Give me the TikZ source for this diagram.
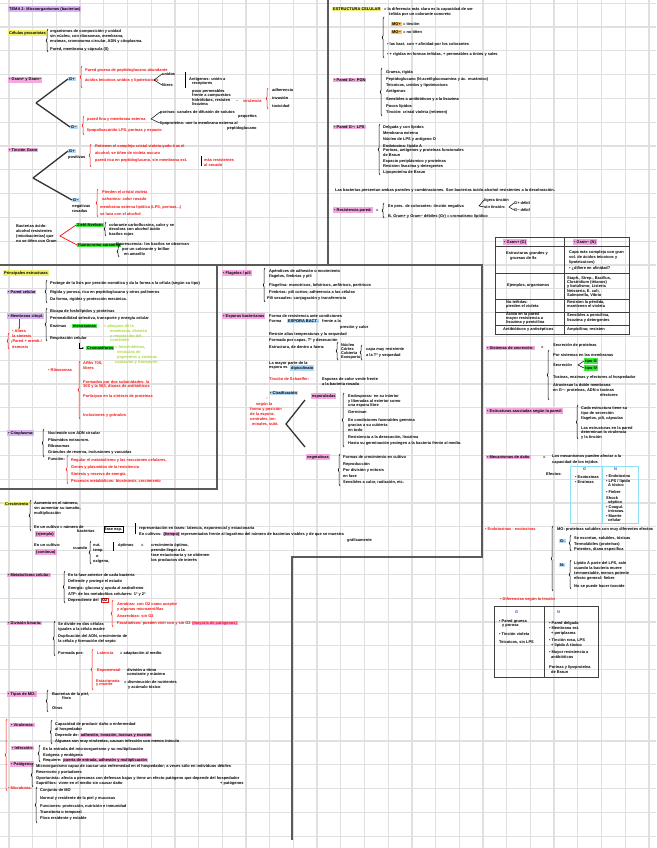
\documentclass[tikz,border=0pt]{standalone}
\usepackage{fontspec}
\setmainfont{Liberation Sans}
\usetikzlibrary{decorations.pathreplacing,arrows.meta}
\definecolor{gridc}{HTML}{E0E0E0}
\definecolor{framec}{HTML}{5A5A5A}
\definecolor{pinkhl}{HTML}{F5A8E0}
\definecolor{yelhl}{HTML}{F0F06A}
\definecolor{viohl}{HTML}{D9B6F2}
\definecolor{bluhl}{HTML}{B2D9F7}
\definecolor{grnhl}{HTML}{3DEB3D}
\definecolor{orahl}{HTML}{F7C25E}
\definecolor{redt}{HTML}{F51010}
\definecolor{grnt}{HTML}{A8D838}
\definecolor{cyanb}{HTML}{8FE0F2}
\definecolor{bluet}{HTML}{3050D0}
\newcounter{nn}
\newcommand\T[4][txt]{\stepcounter{nn}\node[#1] (n\arabic{nn}) at (#2,#3) {#4};}
\newcommand\Br[4][black]{\draw[br,draw=#1] (#2,#4) -- (#2,#3);}
\newcommand\hlt[2]{\begingroup\setlength{\fboxsep}{0.6pt}\colorbox{#1}{#2}\endgroup}
\tikzset{
  txt/.style={font=\fontsize{3.95}{5}\selectfont\bfseries, inner sep=0pt, anchor=west, text=black},
  rt/.style={txt, text=redt},
  gt/.style={txt, text=grnt},
  bt/.style={txt, text=bluet},
  hl/.style={txt, fill=#1, inner xsep=1pt, inner ysep=0.8pt},
  gridline/.style={draw=gridc, line width=1.3pt},
  frame/.style={draw=framec, line width=1.6pt},
  tbl/.style={draw=black!75, line width=1pt},
  br/.style={decorate, decoration={brace, amplitude=1.8pt}, line width=0.6pt},
  tree/.style={draw=black!80, line width=1.3pt},
  thinl/.style={draw=black, line width=0.5pt},
  redl/.style={draw=redt, line width=0.7pt},
}
\begin{document}
\begin{tikzpicture}[x=1pt,y=-1pt]
\useasboundingbox (0,0) rectangle (656,848);
\fill[white] (0,0) rectangle (656,848);
% grid
\foreach \i in {0,...,27} \draw[gridline] ({9+23.7*\i},0) -- ({9+23.7*\i},848);
\foreach \j in {0,...,35} \draw[gridline] (0,{3.2+23.8*\j}) -- (656,{3.2+23.8*\j});
% frames
\draw[frame] (328,0) -- (328,265);
\draw[frame] (0,265) -- (482,265) -- (482,557) -- (292,557) -- (292,840);
\draw[frame] (217,265) -- (217,489) -- (0,489);

% ===== Block A =====
\node[hl=viohl] (title) at (8,9) {TEMA 2: Microorganismos (bacterias)};
\node[hl=yelhl] (cel) at (8,33) {Células procariotas};
\Br{48}{29}{52}
\T{50}{31}{organismos de composición y unidad}
\T{50}{36}{sin núcleo, con ribosomas, membrana,}
\T{50}{41}{enzimas, cromosoma circular, ADN y citoplasma.}
\T{50}{49}{Pared, membrana y cápsula (S)}

% ===== Block B =====
\node[hl=pinkhl] (gram) at (8,80) {• Gram+ y Gram−};
\coordinate (vB) at (36,103);
\node[hl=bluhl] (bGp) at (68,79) {G+};
\node[hl=bluhl] (bGn) at (70,127) {G−};
\draw[tree] (vB) -- (bGp.west);
\draw[tree] (vB) -- (bGn.west);
\Br[redt]{82}{66}{88}
\T[rt]{85}{70}{Pared gruesa de peptidoglucano abundante}
\T[rt]{85}{80}{ácidos teicoicos unidos y lipoteicoicos}
\coordinate (lB1) at (154,80);
\node[txt] (uni) at (162,74) {unidos};
\node[txt] (lib) at (162,85) {libres};
\draw[thinl] (uni.west) -- (lB1) -- (lib.west);
\draw[thinl] (185,72) -- (185,88);
\T{189}{79}{Antígenos: unión a}
\T{192}{84}{receptores}
\T{192}{91}{poco permeables}
\T{192}{95}{frente a compuestos}
\T{192}{100}{hidrófobos, resisten}
\T{192}{104}{lisozima}
\T{235}{101}{→}
\T[rt]{243}{101}{virulencia}
\Br[redt]{268}{88}{109}
\T{272}{90}{adherencia}
\T{272}{98}{invasión}
\T{272}{106}{toxicidad}
\Br[redt]{84}{116}{135}
\T[rt]{87}{119}{pared fina y membrana externa}
\T[rt]{87}{130}{lipopolisacárido LPS, porinas y espacio}
\coordinate (lB2) at (151,119);
\node[txt] (por) at (160,112) {porinas: canales de difusión de solutos};
\node[txt] (lip) at (160,123) {lipoproteína: une la membrana externa al};
\draw[thinl] (por.west) -- (lB2) -- (lip.west);
\T{238}{116}{pequeños}
\T{227}{128}{peptidoglucano}

% ===== Block C =====
\node[hl=pinkhl] (tin) at (8,150) {• Tinción Gram};
\coordinate (vC) at (33,178);
\node[hl=bluhl] (cGp) at (68,151) {G+};
\T{68}{157}{positivas}
\node[hl=bluhl] (cGn) at (72,200) {G−};
\T{72}{206}{negativas}
\T{72}{211}{rosadas}
\draw[tree] (vC) -- (cGp.west);
\draw[tree] (vC) -- (cGn.west);
\Br[redt]{91}{144}{167}
\T[rt]{95}{146}{Retienen el complejo cristal violeta-yodo tras el}
\T[rt]{95}{153}{alcohol; se tiñen de violeta oscuro}
\T[rt]{95}{160}{pared rica en peptidoglucano, sin membrana ext.}
\draw[thinl] (201,156) -- (201,166);
\T[rt]{204}{160}{más resistentes}
\T[rt]{204}{165}{al secado}
\Br[redt]{98}{189}{217}
\T[rt]{102}{192}{Pierden el cristal violeta}
\T[rt]{102}{199}{safranina: color rosado}
\T[rt]{100}{207}{membrana externa lipídica (LPS, porinas...)}
\T[rt]{100}{214}{se lava con el alcohol}

% ===== Block D =====
\T{16}{226}{Bacterias ácido-}
\T{16}{231}{alcohol resistentes}
\T{16}{236}{(micobacterias) que}
\T{16}{241}{no se tiñen con Gram}
\coordinate (vD) at (60,236);
\node[hl=grnhl] (zn) at (76,225) {Ziehl-Neelsen};
\node[hl=grnhl] (au) at (77,245) {fluorocromo auramina};
\draw[redl] (zn.west) -- (vD) -- (au.west);
\Br{106}{222}{236}
\T{109}{225}{colorante carbolfucsina, calor y se}
\T{109}{229}{decolora con alcohol ácido}
\T{109}{234}{bacilos rojos}
\T{116}{244}{fluorescencia: los bacilos se observan}
\Br{119}{246}{257}
\T{122}{249}{por un colorante y brillan}
\T{124}{254}{en amarillo}

% ===== Block E =====
\node[hl=yelhl] (estr) at (332,9) {ESTRUCTURA CELULAR};
\T{384}{9}{= la diferencia más clara es la capacidad de ser}
\T{389}{14}{teñida por un colorante concreto}
\Br{384}{17}{58}
\node[hl=orahl] (mop) at (391,24) {MO+};
\T{403}{24}{= tinción}
\node[hl=orahl] (mon) at (391,32) {MO−};
\T{403}{32}{= no tiñen}
\T{387}{44}{• las bact. con + afinidad por los colorantes}
\T{387}{54}{• + rígidas en formas teñidas, + permeables a tintes y sales}
\node[hl=pinkhl] (pgp) at (333,80) {• Pared G+: PGN};
\Br{382}{68}{116}
\T{386}{72}{Gruesa, rígida}
\T{386}{79}{Peptidoglucano (N-acetilglucosamina y ác. murámico)}
\T{386}{85}{Teicoicos, unidos y lipoteicoicos}
\T{386}{91}{Antígenos}
\T{386}{99}{Sensibles a antibióticos y a la lisozima}
\T{386}{106}{Pocos lípidos}
\T{386}{112}{Tinción: cristal violeta (retienen)}
\node[hl=pinkhl] (pgn) at (333,127) {• Pared G−: LPS};
\Br{380}{124}{175}
\T{383}{127}{Delgada y con lípidos}
\T{383}{133}{Membrana externa}
\T{383}{139}{Núcleo de LPS y antígeno O}
\T{383}{146}{Endotoxina: lípido A}
\T{383}{150}{Porinas, antígenos y proteínas funcionales}
\T{383}{155}{de Braun}
\T{383}{161}{Espacio periplásmico y proteínas}
\T{383}{166}{Resisten lisozima y detergentes}
\T{383}{172}{Lipoproteína de Braun}
\T{335}{190}{Las bacterias presentan ambas paredes y combinaciones. Son bacterias ácido-alcohol resistentes a la decoloración.}
\node[hl=pinkhl] (resp) at (333,210) {• Resistencia pared:};
\T{376}{210}{=}
\Br{384}{203}{218}
\node[txt] (rp1) at (388,206) {En pres. de colorantes: tinción negativa};
\coordinate (vE1) at (479,206);
\node[txt] (rp2) at (484,200) {ligera tinción};
\node[txt] (rp3) at (484,207) {sin tinción:};
\draw[thinl] (rp2.west) -- (vE1) -- (rp3.west);
\coordinate (vE2) at (509,207);
\node[txt] (rp4) at (514,203) {G+ débil};
\node[txt] (rp5) at (514,210) {G− débil};
\draw[thinl] (rp4.west) -- (vE2) -- (rp5.west);
\T{388}{216}{B. Gram+ y Gram− débiles (Gr) = cromatismo lipídico}

% ===== Table Gram =====
\draw[tbl] (495,237) rectangle (629,334);
\draw[tbl] (564,237) -- (564,334);
\foreach \yy in {246,273,299,312,325} \draw[tbl] (495,\yy) -- (629,\yy);
\node[hl=pinkhl] (th1) at (503,242) {• Gram+ (G)};
\node[hl=pinkhl] (th2) at (573,242) {• Gram− (N)};
\T{506}{253}{Estructuras grandes y}
\T{510}{258}{gruesas de 9x}
\T{569}{252}{Capa más compleja con gran}
\T{569}{257}{vol. de ácidos teicoicos y}
\T{569}{262}{lipoteicoicos)}
\T{569}{268}{• ¿difiere en afinidad?}
\T{507}{285}{Ejemplos, organismos}
\T{567}{278}{Staph., Strep., Bacillus,}
\T{567}{282}{Clostridium (tétanos)}
\T{567}{286}{y botulismo; Listeria}
\T{567}{291}{Neisseria, E. coli,}
\T{567}{295}{Salmonella, Vibrio}
\T{506}{302}{No teñidas:}
\T{506}{306}{pierden el violeta}
\T{567}{302}{Resisten la pérdida,}
\T{567}{306}{mantienen el violeta}
\T{506}{314}{Ácido en la pared}
\T{506}{318}{mayor resistencia a}
\T{506}{322}{lisozima y penicilina}
\T{567}{315}{Sensibles a penicilina,}
\T{567}{320}{lisozima y detergentes}
\T{503}{329}{Antibióticos y antisépticos}
\T{567}{329}{Ampicilina; resisten}

% ===== Block F =====
\node[hl=pinkhl] (sec) at (486,348) {• Sistemas de secreción:};
\T{541}{347}{=}
\T{553}{345}{Secreción de proteínas}
\Br{549}{350}{400}
\T{553}{355}{Por sistemas en las membranas}
\node[txt] (sc1) at (553,365) {Secreción};
\coordinate (vF) at (578,365);
\node[hl=grnhl] (t3) at (584,361) {tipo III};
\node[hl=grnhl] (t4) at (584,368) {tipo IV};
\draw[thinl] (t3.west) -- (vF) -- (t4.west);
\T{553}{377}{Toxinas, enzimas y efectores al hospedador}
\T{553}{385}{Atraviesan la doble membrana}
\T{553}{390}{en G−: proteínas, ADN o toxinas}
\T{600}{395}{efectores}
\node[hl=pinkhl] (est) at (486,411) {• Estructuras asociadas según la pared:};
\Br{578}{405}{439}
\T{581}{408}{Cada estructura tiene su}
\T{581}{413}{tipo de secreción}
\T{581}{418}{flagelos, pili, cápsulas}
\T{581}{428}{Las estructuras en la pared}
\T{581}{432}{determinan la virulencia}
\T{581}{437}{y la tinción}
\node[hl=pinkhl] (mec) at (486,457) {• Mecanismos de daño};
\T{543}{457}{=}
\T{552}{456}{Los mecanismos pueden afectar a la}
\T{552}{462}{capacidad de los tejidos}
\node[txt] (efe) at (546,474) {Efectos:};
\draw[draw=cyanb, line width=1pt] (570,466) rectangle (638,523);
\draw[draw=cyanb, line width=1pt] (602,466) -- (602,523);
\T[bt]{583}{469}{G}
\T[bt]{614}{469}{N}
\T{575}{477}{• Exotoxinas}
\T{575}{482}{• Enzimas}
\T{606}{476}{• Endotoxina}
\T{606}{481}{• LPS / lípido}
\T{608}{485}{A tóxico}
\T{606}{492}{• Fiebre}
\T{606}{498}{Shock}
\T{608}{502}{séptico}
\T{606}{507}{• Coagul.}
\T{608}{511}{intravas.}
\T{606}{516}{• Muerte}
\T{608}{520}{celular}
\T[rt]{485}{529}{• Endotoxinas - exotoxinas}
\Br{553}{526}{591}
\T{557}{529}{MO: proteínas solubles con muy diferentes efectos}
\node[hl=bluhl] (eG) at (559,541) {G:};
\Br{571}{535}{551}
\T{574}{538}{Se excretan, solubles, tóxicas}
\T{574}{544}{Termolábiles (proteínas)}
\T{574}{549}{Potentes, diana específica}
\node[hl=bluhl] (eN) at (559,565) {N:};
\Br{571}{560}{589}
\T{574}{563}{Lípido A parte del LPS, sale}
\T{574}{568}{cuando la bacteria muere}
\T{574}{573}{termoestable, menos potente}
\T{574}{578}{efecto general: fiebre}
\T{574}{586}{No se puede hacer toxoide}
\T[rt]{500}{599}{• Diferencias según la tinción}
\draw[tbl] (494,606) rectangle (598,677);
\draw[tbl] (544,606) -- (544,677);
\T[bt]{515}{612}{G}
\T[bt]{557}{612}{N}
\T{499}{621}{• Pared gruesa}
\T{502}{626}{y porosa}
\T{499}{634}{• Tinción violeta}
\T{499}{642}{Teicoicos, sin LPS}
\T{549}{623}{• Pared delgada}
\T{549}{628}{• Membrana ext.}
\T{551}{633}{+ periplasma}
\T{549}{640}{• Tinción rosa, LPS}
\T{551}{645}{+ lípido A tóxico}
\T{549}{652}{• Mayor resistencia a}
\T{551}{657}{antibióticos}
\T{549}{667}{Porinas y lipoproteína}
\T{551}{672}{de Braun}

% ===== Block G =====
\node[hl=yelhl] (pri) at (3,273) {Principales estructuras};
\node[hl=viohl] (par) at (7,292) {• Pared celular};
\Br{47}{280}{303}
\T{50}{283}{Protege de la lisis por presión osmótica y da la forma a la célula (según su tipo)}
\T{50}{292}{Rígida y porosa, rica en peptidoglucano y otros polímeros}
\T{50}{299}{Da forma, rigidez y protección mecánica.}
\node[hl=viohl] (memb) at (7,316) {• Membrana citopl.};
\Br{47}{308}{341}
\T{50}{311}{Bicapa de fosfolípidos y proteínas}
\T{50}{318}{Permeabilidad selectiva, transporte y energía celular}
\T{50}{326}{Enzimas}
\node[hl=grnhl] (meso) at (72,326) {mesosomas};
\T[gt]{104}{326}{= pliegues de la}
\T[gt]{110}{331}{membrana, división}
\T[gt]{110}{336}{y respiración del}
\T[gt]{110}{340}{contenido}
\T{50}{338}{Respiración celular}
\draw[thinl,-{Stealth[length=2pt]}] (79,343) |- (84,348);
\node[hl=grnhl] (crom) at (86,348) {Cromatóforos};
\T[gt]{115}{347}{= fotosintéticos,}
\T[gt]{117}{352}{vesículas de}
\T[gt]{117}{357}{pigmentos y enzimas}
\T[gt]{115}{362}{captación y transporte}
\node[rt] (rmem) at (12,331) {• Altera};
\T[rt]{12}{336}{la síntesis}
\T[rt]{11}{341}{¡Pared + memb.!}
\T[rt]{12}{347}{ósmosis}
\draw[redl,-{Stealth[length=2pt]}] (memb.south -| rmem.north) -- (rmem.north);
\Br[redt]{9}{333}{349}
\T[rt]{48}{370}{• Ribosomas}
\Br[redt]{80}{361}{419}
\T[rt]{83}{363}{ARNr 70S,}
\T[rt]{83}{368}{libres}
\T[rt]{83}{382}{Formados por dos subunidades: la}
\T[rt]{83}{386}{30S y la 50S, dianas de antibióticos}
\T[rt]{83}{396}{Participan en la síntesis de proteínas}
\T[rt]{83}{415}{Inclusiones y gránulos}
\node[hl=viohl] (cit) at (7,433) {• Citoplasma:};
\Br{44}{429}{457}
\T{48}{433}{Nucleoide con ADN circular}
\T{48}{440}{Plásmidos extracrom.}
\T{48}{446}{Ribosomas}
\T{48}{452}{Gránulos de reserva, inclusiones y vacuolas}
\T{48}{459}{Función:}
\Br[redt]{68}{455}{484}
\T[rt]{71}{460}{Regular el metabolismo y las reacciones celulares,}
\T[rt]{71}{467}{Genes y plásmidos de la resistencia}
\T[rt]{71}{474}{Síntesis y reserva de energía}
\T[rt]{71}{481}{Procesos metabólicos: biosíntesis, crecimiento}

% ===== Block H =====
\node[hl=pinkhl] (fla) at (222,273) {• Flagelos / pili};
\Br{265}{268}{302}
\T{269}{271}{Apéndices de adhesión o movimiento}
\T{269}{276}{flagelos, fimbrias y pili}
\T{269}{285}{Flagelina: monotricos, lofotricos, anfitricos, peritricos}
\T{269}{292}{Fimbrias: pili cortos; adherencia a las células}
\T{267}{298}{Pili sexuales: conjugación y transferencia}
\node[hl=pinkhl] (esp) at (222,316) {• Esporas bacterianas};
\T{269}{316}{Forma de resistencia ante condiciones}
\T{269}{321}{Forma}
\node[hl=bluhl] (espb) at (287,321) {ESPORA BACT.};
\T{322}{321}{frente a la}
\T{340}{327}{presión y calor}
\T{269}{334}{Resiste altas temperaturas y la sequedad}
\T{269}{340}{Formada por capas, Tª y desecación}
\T{269}{347}{Estructura, de dentro a fuera:}
\Br{338}{342}{360}
\T{341}{345}{Núcleo}
\T{341}{349}{Córtex}
\T{341}{353}{Cubierta}
\T{341}{357}{Exosporio}
\Br{362}{345}{360}
\T{366}{349}{capa muy resistente}
\T{366}{355}{a la Tª y sequedad}
\T{269}{363}{La mayor parte de la}
\T{269}{368}{espora es}
\node[hl=bluhl] (dip) at (290,368) {dipicolinato};
\T[rt]{269}{379}{Tinción de Schaeffer:}
\T{322}{379}{Esporas de color verde frente}
\T{322}{384}{a la bacteria rosada}
\node[hl=bluhl] (cla) at (269,393) {• Clasificación};
\T[rt]{266}{398}{↓}
\T[rt]{256}{404}{según la}
\T[rt]{250}{409}{forma y posición}
\T[rt]{250}{414}{de la espora:}
\T[rt]{250}{419}{centrales, ter-}
\T[rt]{252}{424}{minales, subt.}
\coordinate (vH) at (286,424);
\coordinate (hU) at (305,400);
\coordinate (hL) at (305,447);
\draw[tree] (hU) -- (vH) -- (hL);
\node[hl=pinkhl] (espo) at (311,396) {esporuladas};
\node[hl=pinkhl] (vege) at (306,457) {vegetativas};
\Br{344}{393}{447}
\T{348}{396}{Endosporas: en su interior}
\T{348}{401}{y liberadas al exterior como}
\T{348}{405}{una espora libre}
\T{348}{412}{Germinan}
\T{348}{420}{En condiciones favorables germina}
\T{348}{425}{gracias a su cubierta}
\T{348}{430}{en todo}
\T{348}{437}{Resistencia a la desecación, lisozima}
\T{348}{443}{Hasta su germinación protegen a la bacteria frente al medio.}
\Br{340}{454}{486}
\T{343}{457}{Formas de crecimiento en cultivo}
\T{343}{464}{Reproducción}
\T{343}{470}{Por división y mitosis}
\T{343}{476}{en fase}
\T{343}{482}{Sensibles a calor, radiación, etc.}

% ===== Block I =====
\node[hl=yelhl] (cre) at (4,504) {Crecimiento};
\T{27}{504}{:}
\Br{31}{500}{531}
\T{34}{503}{Aumento en el número,}
\T{34}{508}{sin aumentar su tamaño,}
\T{34}{513}{multiplicación}
\T{34}{527}{En un cultivo = número de}
\T{77}{531}{bacterias}
\node[hl=pinkhl] (cul1) at (35,534) {(ejemplo)};
\node[txt, draw=black, line width=0.4pt, inner sep=1pt] (fase) at (104,529) {fase exp.};
\draw[thinl] (135,523) -- (135,534);
\T{139}{528}{representación en fases: latencia, exponencial y estacionaria}
\T{139}{534}{En cultivos: \hlt{pinkhl}{(tiempo)} representados frente al logaritmo del número de bacterias viables y de que se muestra}
\T{347}{540}{gráficamente}
\T{34}{545}{En un cultivo:}
\node[hl=pinkhl] (cul2) at (35,552) {(continuo)};
\T{73}{548}{cuando}
\Br{91}{541}{564}
\T{93}{545}{nut.}
\T{93}{551}{temp.}
\T{96}{556}{o}
\T{93}{561}{oxígeno,}
\draw[thinl] (113,542) -- (113,551);
\T{118}{545}{óptimos}
\T{141}{545}{=}
\T{151}{545}{crecimiento óptimo,}
\T{151}{550}{permite llegar a la}
\T{151}{555}{fase estacionaria y se obtienen}
\T{151}{560}{los productos de interés}
\node[hl=pinkhl] (met) at (7,575) {• Metabolismo celular:};
\Br{65}{571}{603}
\T{68}{575}{En la fase anterior de cada bacteria}
\T{68}{581}{Defiende y protege el estado}
\T{68}{588}{Energía: glucosa y ayuda al anabolismo}
\T{68}{594}{ATP: de los metabolitos celulares: 1º y 2º}
\T{68}{600}{Dependiente del}
\node[txt, draw=redt, line width=0.5pt, inner sep=0.8pt] (oxi) at (101,600) {O2};
\Br[redt]{113}{600}{627}
\T[rt]{117}{604}{Aerobias: con O2 como aceptor}
\T[rt]{117}{609}{y algunas microaerófilas}
\T[rt]{117}{616}{Anaerobias: sin O2}
\T[rt]{117}{623}{Facultativas: pueden vivir con y sin O2 \hlt{pinkhl}{(mayoría de patógenos)}}
\node[hl=pinkhl] (div) at (7,623) {• División binaria:};
\Br{55}{621}{656}
\T{58}{624}{Se divide en dos células}
\T{58}{629}{iguales a la célula madre}
\T{58}{636}{Duplicación del ADN, crecimiento de}
\T{58}{641}{la célula y formación del septo}
\T{58}{653}{Formada por:}
\Br[redt]{93}{649}{690}
\T[rt]{97}{653}{Latencia}
\T{120}{653}{= adaptación al medio}
\T[rt]{97}{670}{Exponencial}
\T{127}{670}{división a ritmo}
\T{127}{674}{constante y máximo}
\T[rt]{96}{681}{Estacionaria}
\T[rt]{96}{685}{y muerte}
\T{124}{682}{= disminución de nutrientes}
\T{128}{687}{y acúmulo tóxico}
\node[hl=pinkhl] (nut) at (7,694) {• Tipos de MO:};
\Br{48}{690}{712}
\T{52}{694}{Bacterias de la piel,}
\T{62}{698}{flora}
\T{52}{708}{Otras}
\Br[redt]{7}{719}{791}
\node[hl=pinkhl] (vir) at (10,725) {• Virulencia:};
\Br{52}{720}{744}
\T{55}{724}{Capacidad de producir daño o enfermedad}
\T{55}{729}{al hospedador}
\T{55}{735}{Depende de: \hlt{pinkhl}{adhesión, invasión, toxinas y evasión}}
\T{55}{741}{Algunas son muy virulentas, causan infección con menos inóculo}
\node[hl=pinkhl] (inf) at (11,748) {• Infección:};
\Br{40}{745}{762}
\T{43}{749}{Es la entrada del microorganismo y su multiplicación}
\T{43}{755}{Exógena y endógena}
\T{43}{760}{Requiere: \hlt{pinkhl}{puerta de entrada, adhesión y multiplicación}}
\node[hl=pinkhl] (pat) at (10,764) {• Patógeno:};
\Br{33}{763}{787}
\T{36}{766}{Microorganismo capaz de causar una enfermedad en el hospedador; a veces sólo en individuos débiles}
\T{36}{772}{Reservorio y portadores}
\T{36}{778}{Oportunista: afecta a personas con defensas bajas y tiene un efecto patógeno que depende del hospedador}
\T{36}{783}{Saprófitos: viven en el medio sin causar daño}
\T{220}{783}{+ patógenos}
\T[rt]{8}{788}{• Microbiota:}
\Br{37}{787}{823}
\T{40}{790}{Conjunto de MO}
\T{40}{798}{Normal y residente de la piel y mucosas}
\T{40}{806}{Funciones: protección, nutrición e inmunidad}
\T{40}{812}{Transitoria o temporal}
\T{40}{818}{Flora residente y estable}
\end{tikzpicture}
\end{document}
